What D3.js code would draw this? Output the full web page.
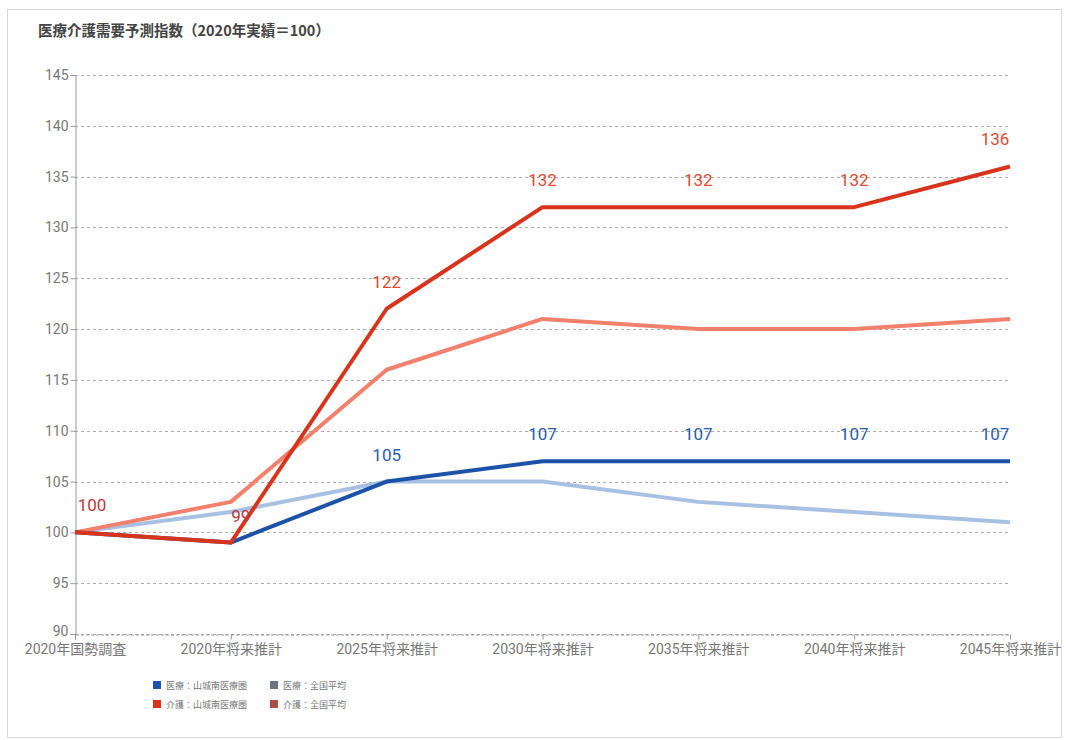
<!DOCTYPE html>
<html>
<head>
<meta charset="utf-8">
<script src="https://cdn.jsdelivr.net/npm/d3@7"></script>
<style>
  body { margin: 0; background: #fff; }
  svg { display: block; }
</style>
</head>
<body>
<svg id="chart" width="1066" height="740"></svg>
<script>
// 医療介護需要予測指数（2020年実績=100）
var categories = ['2020年国勢調査', '2020年将来推計', '2025年将来推計', '2030年将来推計',
    '2035年将来推計', '2040年将来推計', '2045年将来推計'];

var iryoLocal = [100, 99, 105, 107, 107, 107, 107];     // 医療：山城南医療圏
var iryoNation = [100, 102, 105, 105, 103, 102, 101];   // 医療：全国平均
var kaigoLocal = [100, 99, 122, 132, 132, 132, 136];    // 介護：山城南医療圏
var kaigoNation = [100, 103, 116, 121, 120, 120, 121];  // 介護：全国平均

var yTicks = [90, 95, 100, 105, 110, 115, 120, 125, 130, 135, 140, 145];

var legendNames = ['医療：山城南医療圏', '医療：全国平均', '介護：山城南医療圏', '介護：全国平均'];

var svg = d3.select('#chart');
var font = '"Roboto", "Noto Sans CJK JP", sans-serif';

// 外枠
svg.append('rect')
    .attr('x', 7.5).attr('y', 9.5)
    .attr('width', 1054).attr('height', 728)
    .attr('fill', '#fff')
    .attr('stroke', '#d8d8d8');

svg.append('text')
    .attr('x', 38).attr('y', 36)
    .attr('font-family', '"Noto Sans CJK JP", sans-serif')
    .attr('font-weight', 'bold')
    .attr('font-size', 14.5)
    .attr('fill', '#444')
    .text('医療介護需要予測指数（2020年実績＝100）');

var x = d3.scalePoint()
    .domain(categories)
    .range([75, 1010]);

var y = d3.scaleLinear()
    .domain([90, 145])
    .range([634, 75]);

// グリッド
svg.append('g')
    .selectAll('line')
    .data(yTicks)
    .enter()
    .append('line')
    .attr('x1', 75).attr('x2', 1010)
    .attr('y1', function (d) { return Math.round(y(d)) + 0.5; })
    .attr('y2', function (d) { return Math.round(y(d)) + 0.5; })
    .attr('stroke', '#aaa')
    .attr('stroke-dasharray', '3,3');

// Y軸
var yAxis = svg.append('g')
    .attr('transform', 'translate(75.5,0)')
    .call(d3.axisLeft(y).tickValues(yTicks).tickSize(5).tickPadding(2));
yAxis.select('.domain').attr('stroke', '#999');
yAxis.selectAll('.tick line').attr('stroke', '#999');
yAxis.selectAll('text')
    .attr('font-family', font)
    .attr('font-size', 14)
    .attr('fill', '#777');
// 90 のラベルは少し上へ
yAxis.selectAll('.tick text')
    .filter(function (d) { return d === 90; })
    .attr('dy', '0.1em');

// X軸
var xAxis = svg.append('g')
    .attr('transform', 'translate(0,634.5)')
    .call(d3.axisBottom(x).tickSize(5).tickPadding(5));
xAxis.select('.domain').attr('stroke', '#999').attr('stroke-dasharray', '3,2');
xAxis.selectAll('.tick line').attr('stroke', '#999');
xAxis.selectAll('text')
    .attr('font-family', font)
    .attr('font-size', 14)
    .attr('fill', '#777');

var line = d3.line()
    .x(function (d, i) { return x(categories[i]); })
    .y(function (d) { return y(d); });

var series = [
    { values: iryoNation, color: '#a8c0e2' },
    { values: kaigoNation, color: '#f2806c' },
    { values: iryoLocal, color: '#1c52a8' },
    { values: kaigoLocal, color: '#d8341c' }
];

svg.append('g')
    .selectAll('path')
    .data(series)
    .enter()
    .append('path')
    .attr('fill', 'none')
    .attr('stroke', function (d) { return d.color; })
    .attr('stroke-width', 4)
    .attr('stroke-linejoin', 'round')
    .attr('d', function (d) { return line(d.values); });

// データラベル
function labelX(i) {
    if (i === 0) return x(categories[i]) + 17;
    if (i === 1) return x(categories[i]) + 10;
    if (i === categories.length - 1) return x(categories[i]) - 15;
    return x(categories[i]);
}

var labelFont = '"Roboto", sans-serif';

var kaigoLabels = svg.append('g');
kaigoLocal.forEach(function (v, i) {
    kaigoLabels.append('text')
        .attr('x', labelX(i))
        .attr('y', y(v) - 21)
        .attr('text-anchor', 'middle')
        .attr('font-family', labelFont)
        .attr('font-size', 17)
        .attr('fill', i < 2 ? '#b83a3a' : '#e04a30')
        .text(v);
});

var iryoLabels = svg.append('g');
iryoLocal.forEach(function (v, i) {
    if (i < 2) return;
    iryoLabels.append('text')
        .attr('x', labelX(i))
        .attr('y', y(v) - 21)
        .attr('text-anchor', 'middle')
        .attr('font-family', labelFont)
        .attr('font-size', 17)
        .attr('fill', '#2a5cb0')
        .text(v);
});

// 凡例
var legendColors = ['#1c52a8', '#6c7480', '#d8341c', '#a8504a'];
var legend = svg.append('g')
    .selectAll('g')
    .data(legendNames)
    .enter()
    .append('g')
    .attr('transform', function (d, i) {
        return 'translate(' + (153 + (i % 2) * 117) + ',' + (681 + Math.floor(i / 2) * 19) + ')';
    });
legend.append('rect')
    .attr('width', 8).attr('height', 8)
    .attr('fill', function (d, i) { return legendColors[i]; });
legend.append('text')
    .attr('x', 13).attr('y', 8)
    .attr('font-family', '"Noto Sans CJK JP", sans-serif')
    .attr('font-size', 9)
    .attr('fill', '#777')
    .text(function (d) { return d; });
</script>
</body>
</html>
